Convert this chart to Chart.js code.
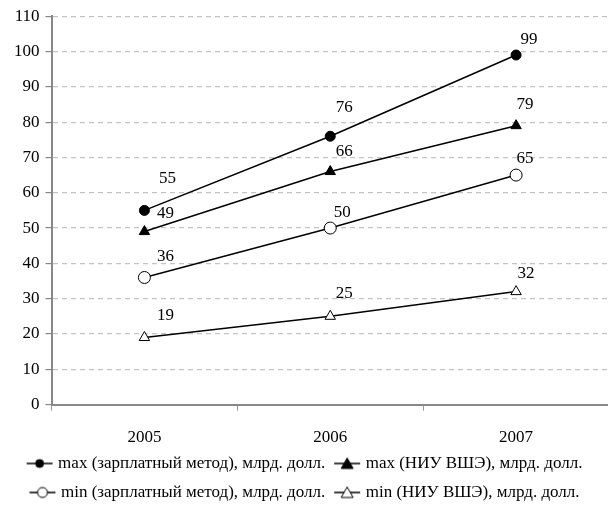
<!DOCTYPE html>
<html lang="ru">
<head>
    <meta charset="UTF-8">
    <title>max / min, млрд. долл.</title>
    <style>
        html, body { margin: 0; padding: 0; background: #fff; overflow: hidden; }
        /* the canvas is a little wider than the window: the x axis runs off the right edge */
        #moldura { position: relative; width: 608px; height: 506px; overflow: hidden; }
        #grafico { display: block; position: absolute; left: -4px; top: 0; width: 620px; height: 506px; }
    </style>
    <script src="https://cdn.jsdelivr.net/npm/chart.js"></script>
</head>
<body>
    <div id="moldura"><canvas id="grafico" width="620" height="506"></canvas></div>

    <script>
        // years
        const anos = ['2005', '2006', '2007'];
        // series values, billion USD
        const maxSalario = [55, 76, 99];
        const maxHSE = [49, 66, 79];
        const minSalario = [36, 50, 65];
        const minHSE = [19, 25, 32];
        const nomes = [
            'max (зарплатный метод), млрд. долл.',
            'max (НИУ ВШЭ), млрд. долл.',
            'min (зарплатный метод), млрд. долл.',
            'min (НИУ ВШЭ), млрд. долл.'
        ];
        const yTicks = [0, 10, 20, 30, 40, 50, 60, 70, 80, 90, 100, 110];

        // where each value label sits relative to its point (dx, dy), per series
        const deslocamentos = [
            [[23, -32], [14, -29], [13, -16]],
            [[21, -18], [14, -20], [9, -21]],
            [[21, -21], [12, -16], [9, -17]],
            [[21, -22], [14, -23], [10, -18]]
        ];

        const fonte = '"Liberation Serif", "Times New Roman", serif';

        // little line+marker picture for the legend
        function marcador(estilo, cheio) {
            const c = document.createElement('canvas');
            c.width = 28; c.height = 14;
            const g = c.getContext('2d');
            g.strokeStyle = '#000';
            g.lineWidth = 1.5;
            g.beginPath(); g.moveTo(1, 7); g.lineTo(27, 7); g.stroke();
            g.beginPath();
            if (estilo === 'circle') {
                g.arc(14, 7, cheio ? 4 : 5, 0, Math.PI * 2);
            } else {
                g.moveTo(14, 1.5); g.lineTo(20, 12); g.lineTo(8, 12); g.closePath();
            }
            g.fillStyle = cheio ? '#000' : '#fff';
            g.fill();
            g.lineWidth = 1;
            g.stroke();
            return c;
        }

        function serie(i, dados, estilo, cheio, raio) {
            return {
                label: nomes[i],
                data: dados,
                borderColor: '#000',
                borderWidth: 1.5,
                pointStyle: estilo,
                pointRadius: raio,
                pointHoverRadius: raio,
                pointBackgroundColor: cheio ? '#000' : '#fff',
                pointBorderColor: '#000',
                pointBorderWidth: 1,
                fill: false,
                tension: 0,
                legendImg: marcador(estilo, cheio)
            };
        }

        // numbers above-right of every point
        const rotulos = {
            id: 'rotulos',
            afterDatasetsDraw(chart) {
                const ctx = chart.ctx;
                ctx.save();
                ctx.font = '17px ' + fonte;
                ctx.fillStyle = '#000';
                ctx.textAlign = 'center';
                ctx.textBaseline = 'middle';
                chart.data.datasets.forEach((ds, i) => {
                    chart.getDatasetMeta(i).data.forEach((p, j) => {
                        const [dx, dy] = deslocamentos[i][j];
                        ctx.fillText(String(ds.data[j]), p.x + dx, p.y + dy);
                    });
                });
                ctx.restore();
            }
        };

        const ctx = document.getElementById('grafico').getContext('2d');
        new Chart(ctx, {
            type: 'line',
            data: {
                labels: anos,
                datasets: [
                    serie(0, maxSalario, 'circle', true, 5),
                    serie(1, maxHSE, 'triangle', true, 6),
                    serie(2, minSalario, 'circle', false, 6),
                    serie(3, minHSE, 'triangle', false, 6)
                ]
            },
            options: {
                responsive: false,
                animation: false,
                devicePixelRatio: 1,
                // negative bottom: the legend sits low, as in the picture
                layout: { padding: { top: 14, left: 0, right: 0, bottom: -5 } },
                plugins: {
                    tooltip: { enabled: false },
                    legend: {
                        position: 'bottom',
                        labels: {
                            color: '#000',
                            font: { family: fonte, size: 17 },
                            usePointStyle: true,
                            pointStyleWidth: 20,
                            boxHeight: 14,
                            padding: 12,
                            generateLabels(chart) {
                                return chart.data.datasets.map((ds, i) => ({
                                    text: ds.label,
                                    pointStyle: ds.legendImg,
                                    fillStyle: '#000',
                                    strokeStyle: '#000',
                                    lineWidth: 0,
                                    hidden: false,
                                    datasetIndex: i
                                }));
                            }
                        }
                    }
                },
                scales: {
                    x: {
                        offset: true,
                        afterFit(axis) { axis.height -= 22; },
                        grid: {
                            offset: true,
                            drawOnChartArea: false,
                            drawTicks: true,
                            tickLength: 6,
                            tickColor: '#999'
                        },
                        border: { display: true, color: '#888', width: 2 },
                        ticks: {
                            color: '#000',
                            font: { family: fonte, size: 17 },
                            padding: 17
                        }
                    },
                    y: {
                        min: 0,
                        max: 110,
                        afterFit(axis) { axis.width += 12; },
                        afterBuildTicks(axis) {
                            axis.ticks = yTicks.map(v => ({ value: v }));
                        },
                        grid: {
                            color: '#c4c4c4',
                            lineWidth: 1.2,
                            drawTicks: true,
                            tickLength: 6,
                            tickColor: '#888',
                            tickBorderDash: []
                        },
                        border: { display: true, color: '#888', width: 2, dash: [5, 4] },
                        ticks: {
                            color: '#000',
                            font: { family: fonte, size: 17 },
                            padding: 6
                        }
                    }
                }
            },
            plugins: [rotulos]
        });
    </script>
</body>
</html>
